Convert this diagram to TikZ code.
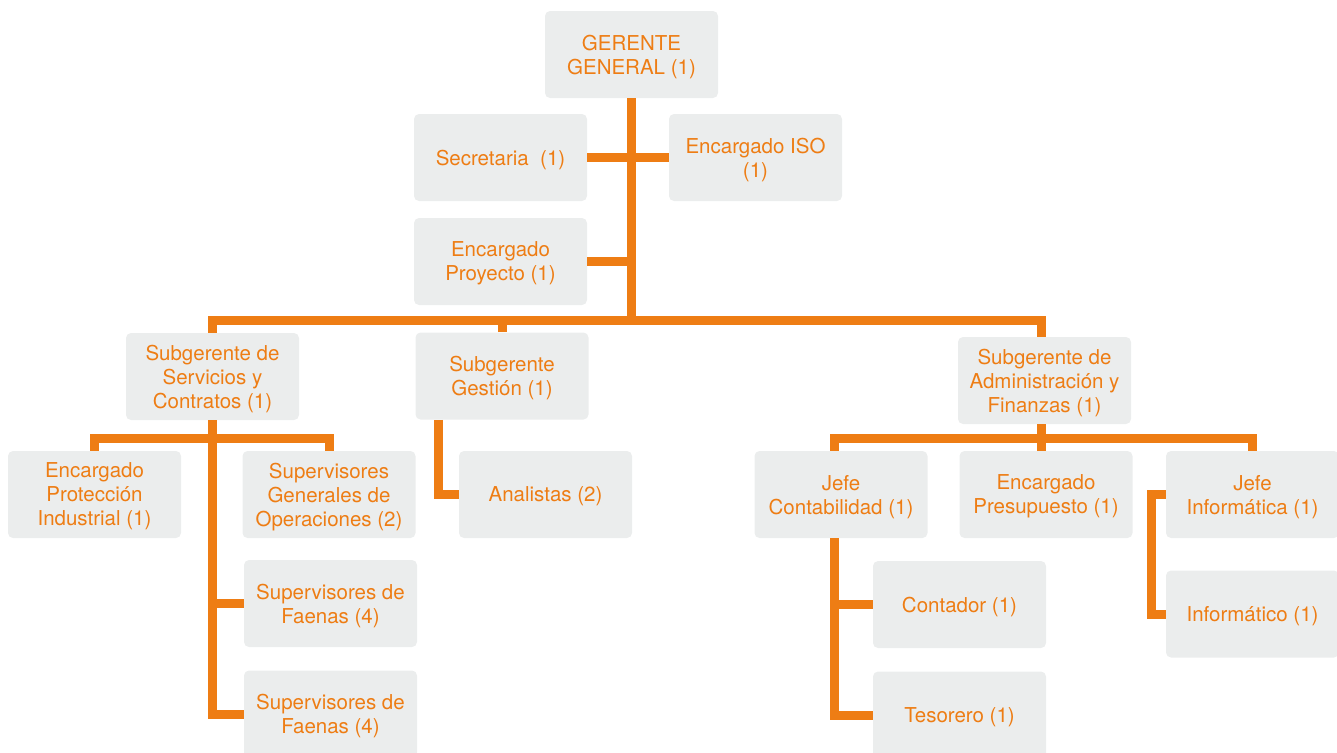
\documentclass[tikz,border=0pt]{standalone}
\usepackage{fontspec}
\setmainfont{TeX Gyre Heros}
\usepackage{tikz}
\usetikzlibrary{positioning}
\definecolor{naranja}{RGB}{238,125,20}
\definecolor{gris}{RGB}{235,237,237}
\tikzstyle{puesto} = [fill=gris, rounded corners=2.5pt, minimum width=86.5pt, minimum height=43.5pt, inner sep=0pt, text depth=0pt, align=center, text=naranja, font=\fontsize{10.25}{12}\selectfont]
\tikzstyle{linea} = [draw=naranja, line width=4.5pt, line join=miter, line cap=butt]

\begin{document}
\begin{tikzpicture}[x=0.5pt, y=-0.5pt, node distance=55.25pt]
        \useasboundingbox (0,0) rectangle (1337,752);

        \node[puesto] (gerente) at (631.5,54.5) {GERENTE\\GENERAL (1)};
        \node[puesto] (secretaria) at (500.5,157.5) {Secretaria\ \ (1)};
        \node[puesto] (iso) at (755.5,157.5) {Encargado ISO\\(1)};
        \node[puesto] (proyecto) at (500.5,261.5) {Encargado\\Proyecto (1)};

        \node[puesto] (servicios) at (212.5,376.5) {Subgerente de\\Servicios y\\Contratos (1)};
        \node[puesto] (gestion) at (502,376) {Subgerente\\Gesti\'on (1)};
        \node[puesto] (admin) at (1044.5,380.5) {Subgerente de\\Administraci\'on y\\Finanzas (1)};

        \node[puesto] (proteccion) at (94.5,494.5) {Encargado\\Protecci\'on\\Industrial (1)};
        \node[puesto] (supgen) at (329,494.5) {Supervisores\\Generales de\\Operaciones (2)};
        \node[puesto] (faenasa) at (330.5,603.5) {Supervisores de\\Faenas (4)};
        \node[puesto] (faenasb) [below of=faenasa] {Supervisores de\\Faenas (4)};
        \node[puesto] (analistas) at (545.5,494.5) {Analistas (2)};

        \node[puesto] (jefecont) at (841,494.5) {Jefe\\Contabilidad (1)};
        \node[puesto] (presupuesto) at (1046,494.5) {Encargado\\Presupuesto (1)};
        \node[puesto] (jefeinf) at (1252.5,494.5) {Jefe\\Inform\'atica (1)};
        \node[puesto] (contador) at (959.5,604.5) {Contador (1)};
        \node[puesto] (tesorero) [below of=contador] {Tesorero (1)};
        \node[puesto] (informatico) at (1252.5,614) {Inform\'atico (1)};

        \coordinate (admintop) at ([xshift=-1.5pt]admin.north);
        \coordinate (adminbot) at ([xshift=-1.5pt]admin.south);
        \coordinate (conttop) at ([xshift=-3.25pt]jefecont.north);
        \coordinate (contbot) at ([xshift=-3.25pt]jefecont.south);

        \draw[linea] (gerente.south) -- ++(0,223);
        \draw[linea] (secretaria.east) -- (iso.west);
        \draw[linea] (proyecto.east) -- (proyecto.east -| gerente.south);
        \draw[linea] (servicios.north) -- ++(0,-12) -| (admintop);
        \draw[linea] (gestion.north) -- ++(0,-12);

        \draw[linea] (proteccion.north) -- ++(0,-12.5) -| (supgen.north);
        \draw[linea] (servicios.south) |- (faenasb.west);
        \draw[linea] (faenasa.west) -- (faenasa.west -| servicios.south);
        \draw[linea] ([xshift=11.75pt]gestion.south west) |- (analistas.west);

        \draw[linea] (conttop) -- ++(0,-12.5) -| (jefeinf.north);
        \draw[linea] (adminbot) -- (adminbot |- presupuesto.north);
        \draw[linea] (contbot) |- (tesorero.west);
        \draw[linea] (contador.west) -- (contador.west -| contbot);
        \draw[linea] (jefeinf.west) -- ++(-14,0) |- (informatico.west);
    \end{tikzpicture}
\end{document}
